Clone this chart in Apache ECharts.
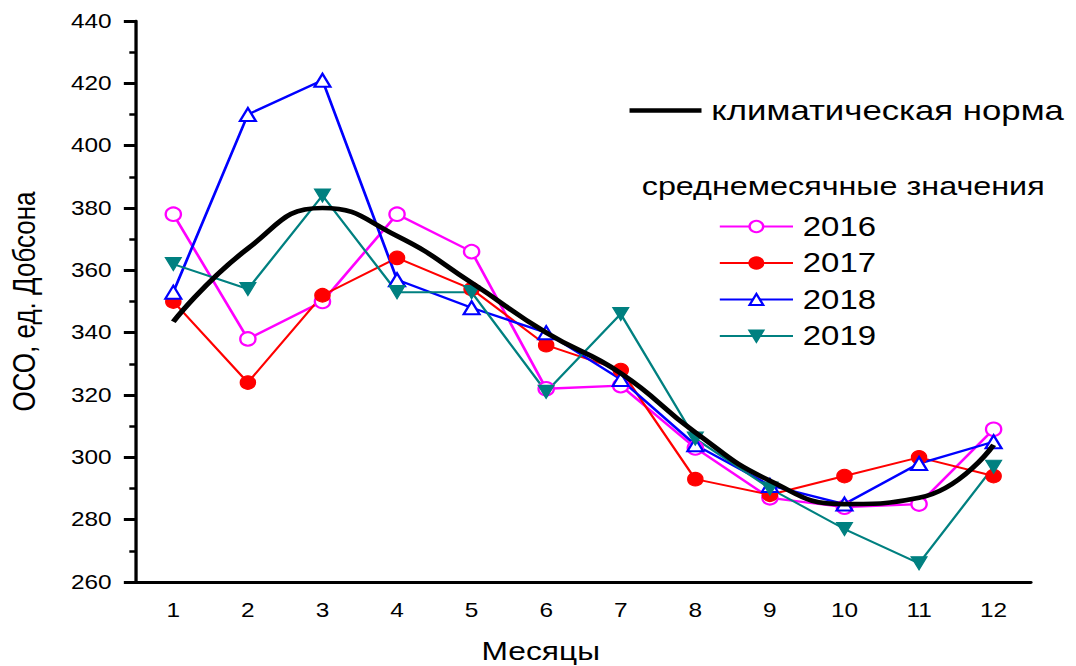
<!DOCTYPE html>
<html>
<head>
<meta charset="utf-8">
<script src="https://cdn.jsdelivr.net/npm/echarts@6/dist/echarts.min.js"></script>
<style>
html,body{margin:0;padding:0;background:#fff;overflow:hidden}
#c{width:882px;height:666px;transform:scaleX(1.22);transform-origin:0 0}
</style>
</head>
<body>
<div id="c"></div>
<script>
var months = ['1','2','3','4','5','6','7','8','9','10','11','12'];
var yTicks = {min: 260, max: 440, step: 20};
var normName = 'климатическая норма';
var norm = [343.5, 367, 380, 371, 356, 340, 327, 308, 292.5, 285, 287, 304];
var s2016 = [378, 338, 350, 378, 366, 322, 323, 303, 287, 284, 285, 309];
var s2017 = [350, 324, 352, 364, 354, 336, 328, 293, 288, 294, 300, 294];
var s2018 = [353, 410, 421, 357, 348, 340, 325, 304, 291, 285, 298, 305];
var s2019 = [362, 354, 384, 353, 353, 321, 346, 306, 290, 277, 266, 297];
var yearNames = ['2016', '2017', '2018', '2019'];
var subTitle = 'среднемесячные значения';
var xName = 'Месяцы';
var yName = 'ОСО, ед. Добсона';

var FONT = 'Liberation Sans, Arial, sans-serif';
var chart = echarts.init(document.getElementById('c'), null, {renderer: 'svg'});
function yearSeries(name, data, color, symbol, size, rotate, lw) {
  return {
    name: name, type: 'line', data: data,
    symbol: symbol, symbolSize: size, symbolRotate: rotate || 0,
    showAllSymbol: true,
    lineStyle: {color: color, width: lw},
    itemStyle: {color: color, borderColor: color, borderWidth: 1.1},
    emphasis: {disabled: true},
    z: 3
  };
}
var option = {
  animation: false,
  backgroundColor: '#fff',
  textStyle: {fontFamily: FONT},
  grid: {left: 111.5, right: 37, top: 21, bottom: 84, containLabel: false, outerBoundsMode: 'none'},
  legend: [
    {
      data: [{name: normName, icon: 'rect'}], left: 511, top: 91, itemWidth: 59, itemHeight: 4.5,
      textStyle: {fontSize: 28.5, fontFamily: FONT, color: '#000', padding: [0, 0, 0, 3]},
      itemStyle: {borderWidth: 0}, selectedMode: false
    },
    {
      data: yearNames, orient: 'vertical', left: 584, top: 208, itemWidth: 60, itemHeight: 14,
      itemGap: 9.5, textStyle: {fontSize: 27, fontFamily: FONT, color: '#000', padding: [0, 0, 0, 3]},
      symbolRotate: 'inherit', selectedMode: false
    }
  ],
  graphic: [{
    type: 'text', left: 526, top: 172,
    style: {text: subTitle, fontSize: 26.5, fontFamily: FONT, fill: '#000'}
  }],
  xAxis: [
    {
      type: 'category', data: months, boundaryGap: true,
      name: xName, nameLocation: 'middle', nameGap: 56,
      nameTextStyle: {fontSize: 26, color: '#000', fontFamily: FONT, padding: [0, 70, 0, 0]},
      axisLine: {lineStyle: {color: '#000', width: 2.8}},
      axisTick: {alignWithLabel: true, length: 10, lineStyle: {color: '#000', width: 2.5}},
      axisLabel: {fontSize: 20, color: '#000', margin: 18, fontFamily: FONT},
      splitLine: {show: false}
    },
    {
      type: 'category', data: months, boundaryGap: true, position: 'bottom',
      axisLine: {show: false},
      axisTick: {inside: true, length: 4, lineStyle: {color: '#000', width: 1.3}},
      axisLabel: {show: false}, splitLine: {show: false}
    }
  ],
  yAxis: {
    type: 'value', min: yTicks.min, max: yTicks.max, interval: yTicks.step,
    name: yName, nameLocation: 'middle', nameGap: 79, nameRotate: 90,
    nameTextStyle: {fontSize: 26, color: '#000', fontFamily: FONT},
    axisLine: {show: true, lineStyle: {color: '#000', width: 2.7}},
    axisTick: {show: true, length: 10, lineStyle: {color: '#000', width: 3}},
    minorTick: {show: true, splitNumber: 2, length: 5.5, lineStyle: {color: '#000', width: 2.5}},
    axisLabel: {fontSize: 20, color: '#000', margin: 20, fontFamily: FONT},
    splitLine: {show: false}
  },
  series: [
    {
      name: normName, type: 'line', data: norm, smooth: 0.5, symbol: 'none',
      lineStyle: {color: '#000', width: 4.6}, itemStyle: {color: '#000'},
      emphasis: {disabled: true}, z: 5
    },
    yearSeries(yearNames[0], s2016, '#ff00ff', 'emptyCircle', [12.5, 13.5], 0, 2.3),
    yearSeries(yearNames[1], s2017, '#ff0000', 'circle', [12.5, 13.5], 0, 2),
    yearSeries(yearNames[2], s2018, '#0000ff', 'emptyTriangle', [13, 13], 0, 2.3),
    yearSeries(yearNames[3], s2019, '#008080', 'triangle', [13, 13], 180, 2)
  ]
};
chart.setOption(option);
</script>
</body>
</html>
